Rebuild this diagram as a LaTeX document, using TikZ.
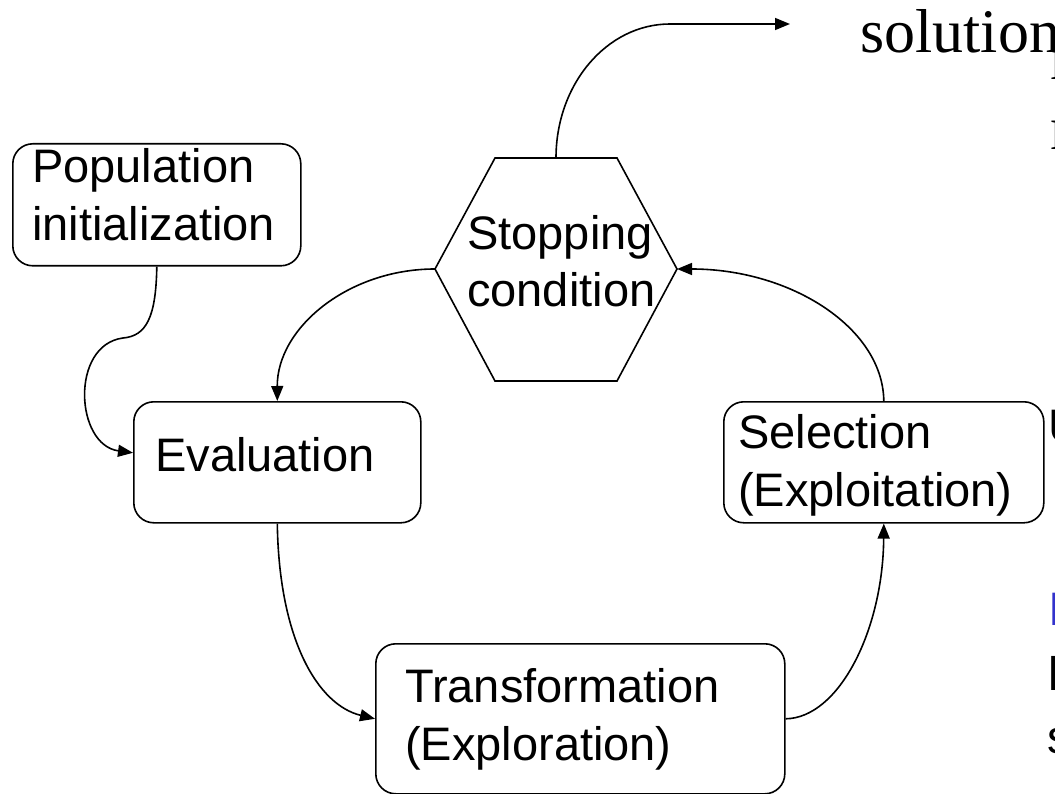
\documentclass[tikz,border=0pt]{standalone}
\usepackage{fontspec}
\setmainfont{Liberation Sans}
\newfontfamily\timesfont{Liberation Serif}
\usetikzlibrary{arrows.meta}
\definecolor{linkblue}{RGB}{51,51,204}
\begin{document}
\begin{tikzpicture}[x=1pt,y=-1pt,
  box/.style={draw,line width=1.6pt,rounded corners=20pt,inner sep=0pt,anchor=north west},
  lbl/.style={anchor=base west,inner sep=0pt,font=\fontsize{47}{56}\selectfont},
  serif/.style={anchor=base west,inner sep=0pt,font=\timesfont\fontsize{62}{70}\selectfont},
  conn/.style={line width=1.6pt,-{Triangle[length=15pt,width=12pt]}},
  hexline/.style={line width=1.6pt,line join=miter}]
\useasboundingbox (0,0) rectangle (1055,794);
\clip (0,0) rectangle (1055,794);

% boxes
\node[box,minimum width=288pt,minimum height=122pt] (pop) at (12,143) {};
\node[box,minimum width=287pt,minimum height=121pt] (eval) at (133,401) {};
\node[box,minimum width=320pt,minimum height=121pt] (sel) at (723,401) {};
\node[box,minimum width=409pt,minimum height=150pt] (trans) at (375,643) {};

% hexagon
\coordinate (stopT) at (556,158);
\coordinate (stopL) at (435,269);
\coordinate (stopR) at (677,269);
\draw[hexline] (495,158) -- (617,158) -- (stopR) -- (617,381) -- (495,381) -- (stopL) -- cycle;

% labels
\node[lbl] (popA) at (32,183) {Population};
\node[lbl] (popB) at (32,241) {initialization};
\node[lbl] (stopA) at (467,250) {Stopping};
\node[lbl] (stopB) at (467,307) {condition};
\node[lbl] (evalA) at (155,471) {Evaluation};
\node[lbl] (selA) at (738,448) {Selection};
\node[lbl] (selB) at (738,506) {(Exploitation)};
\node[lbl] (transA) at (405,702) {Transformation};
\node[lbl] (transB) at (405,760) {(Exploration)};

% slide text partly cut off at the right
\node[serif] (sol) at (860,53) {solution};
\node[serif] (fragA) at (1050,80) {n};
\node[serif] (fragB) at (1050,150) {n};
\node[lbl] (fragC) at (1048,442) {U};
\node[lbl,text=linkblue] (fragD) at (1048,625) {I};
\node[lbl] (fragE) at (1048,690) {l};
\node[lbl] (fragF) at (1047,753) {s};

% connectors
\coordinate (popmid) at (123,338);
\coordinate (outend) at (790,24);
\draw[line width=1.6pt] (pop.south) .. controls (156,318) and (146,336) .. (popmid);
\draw[conn] (popmid) .. controls (70,345) and (75,445) .. ([yshift=9.5pt]eval.west);
\draw[conn] (stopT) .. controls (556,84) and (607,24) .. (670,24) -- (outend);
\draw[conn] (stopL) .. controls (348,269) and (277,328) .. (eval.north);
\draw[conn] (sel.north) .. controls (883,328) and (791,269) .. (stopR);
\draw[conn] (eval.south) .. controls (279,640) and (318,705) .. (trans.west);
\draw[conn] (trans.east) .. controls (839,718) and (883,630) .. (sel.south);
\end{tikzpicture}
\end{document}
